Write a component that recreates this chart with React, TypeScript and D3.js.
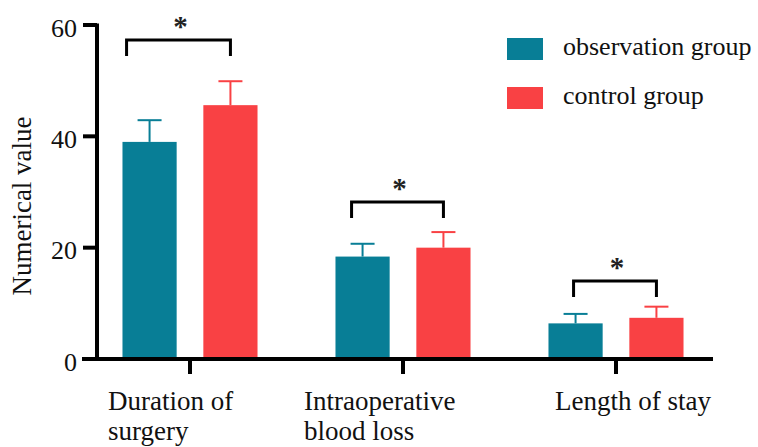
import { useEffect, useRef } from "react";
import * as d3 from "d3";

// categories and series
const categories = ["Duration of surgery", "Intraoperative blood loss", "Length of stay"];
const categoryLines = [["Duration of", "surgery"], ["Intraoperative", "blood loss"], ["Length of stay"]];
const seriesNames = ["observation group", "control group"];
const observationMean = [39.0, 18.4, 6.4];
const observationSd = [3.9, 2.3, 1.7];
const controlMean = [45.6, 20.0, 7.4];
const controlSd = [4.3, 2.8, 2.0];
const bracketLevels = [57.3, 28.2, 14.0];
const yTicks = [0, 20, 40, 60];

const colors = ["#087e96", "#f94144"];
const FONT = "'Liberation Serif', 'Times New Roman', serif";

export default function App() {
  const svgRef = useRef<SVGSVGElement | null>(null);
  const width = 758;
  const height = 447;

  useEffect(() => {
    if (!svgRef.current) return;
    const svg = d3.select(svgRef.current);
    svg.selectAll("*").remove();

    const axisX = 97;
    const axisY = 359;

    const yScale = d3.scaleLinear().domain([0, 60]).range([axisY, 25]);

    const xScale = d3
      .scaleBand()
      .domain(categories)
      .range([83.5, 722.5])
      .paddingInner(0.366)
      .paddingOuter(0.183);

    const subScale = d3
      .scaleBand()
      .domain(seriesNames)
      .range([0, xScale.bandwidth()])
      .paddingInner(0.33);

    const rows = categories.map((c, i) => ({
      cat: c,
      values: [
        { s: seriesNames[0], m: observationMean[i], sd: observationSd[i] },
        { s: seriesNames[1], m: controlMean[i], sd: controlSd[i] },
      ],
    }));

    // bars
    const groups = svg
      .append("g")
      .selectAll("g")
      .data(rows)
      .enter()
      .append("g")
      .attr("transform", (d) => `translate(${xScale(d.cat)},0)`);

    groups
      .selectAll("rect")
      .data((d) => d.values)
      .enter()
      .append("rect")
      .attr("x", (d) => subScale(d.s) as number)
      .attr("y", (d) => yScale(d.m))
      .attr("width", subScale.bandwidth())
      .attr("height", (d) => yScale(0) - yScale(d.m))
      .attr("fill", (_d, i) => colors[i]);

    // error bars (upper only)
    const err = groups
      .selectAll("g.err")
      .data((d) => d.values)
      .enter()
      .append("g")
      .attr("class", "err")
      .attr("stroke", (_d, i) => colors[i])
      .attr("stroke-width", 2);
    err
      .append("line")
      .attr("x1", (d) => (subScale(d.s) as number) + subScale.bandwidth() / 2)
      .attr("x2", (d) => (subScale(d.s) as number) + subScale.bandwidth() / 2)
      .attr("y1", (d) => yScale(d.m))
      .attr("y2", (d) => yScale(d.m + d.sd));
    err
      .append("line")
      .attr("x1", (d) => (subScale(d.s) as number) + subScale.bandwidth() / 2 - 12)
      .attr("x2", (d) => (subScale(d.s) as number) + subScale.bandwidth() / 2 + 12)
      .attr("y1", (d) => yScale(d.m + d.sd))
      .attr("y2", (d) => yScale(d.m + d.sd));

    // significance brackets
    const legDrop = 16;
    const bracketShift = [-23, -11, -2];
    rows.forEach((r, i) => {
      const x0 = (xScale(r.cat) as number) + (subScale(seriesNames[0]) as number) + subScale.bandwidth() / 2 + bracketShift[i];
      const x1 = (xScale(r.cat) as number) + (subScale(seriesNames[1]) as number) + subScale.bandwidth() / 2;
      const by = yScale(bracketLevels[i]);
      svg
        .append("path")
        .attr("d", `M${x0},${by + legDrop}V${by}H${x1}V${by + legDrop}`)
        .attr("fill", "none")
        .attr("stroke", "#000")
        .attr("stroke-width", 3);
      svg
        .append("text")
        .attr("x", (x0 + x1) / 2 + 2)
        .attr("y", by - 4)
        .attr("text-anchor", "middle")
        .attr("font-family", FONT)
        .attr("font-size", 29)
        .attr("font-weight", "bold")
        .attr("fill", "#222")
        .text("*");
    });

    // y axis
    const yAxis = svg.append("g").attr("font-family", FONT);
    yAxis
      .append("line")
      .attr("x1", axisX)
      .attr("x2", axisX)
      .attr("y1", yScale(60) - 1.5)
      .attr("y2", axisY)
      .attr("stroke", "#000")
      .attr("stroke-width", 4);
    yTicks.forEach((t) => {
      yAxis
        .append("line")
        .attr("x1", 83)
        .attr("x2", axisX)
        .attr("y1", yScale(t))
        .attr("y2", yScale(t))
        .attr("stroke", "#000")
        .attr("stroke-width", 4);
      yAxis
        .append("text")
        .attr("x", 77)
        .attr("y", yScale(t) + 3)
        .attr("dominant-baseline", "central")
        .attr("text-anchor", "end")
        .attr("font-size", 26)
        .attr("fill", "#111")
        .text(t);
    });

    // x axis
    const xAxis = svg.append("g").attr("font-family", FONT);
    xAxis
      .append("line")
      .attr("x1", 82)
      .attr("x2", 713)
      .attr("y1", axisY)
      .attr("y2", axisY)
      .attr("stroke", "#000")
      .attr("stroke-width", 4);
    const labelOffsets = [-82, -99, -61];
    rows.forEach((r, i) => {
      const cx = (xScale(r.cat) as number) + xScale.bandwidth() / 2;
      xAxis
        .append("line")
        .attr("x1", cx)
        .attr("x2", cx)
        .attr("y1", axisY)
        .attr("y2", axisY + 15)
        .attr("stroke", "#000")
        .attr("stroke-width", 4);
      categoryLines[i].forEach((line, j) => {
        xAxis
          .append("text")
          .attr("x", cx + labelOffsets[i])
          .attr("y", 410 + j * 30)
          .attr("font-size", 27)
          .attr("fill", "#111")
          .text(line);
      });
    });

    // y label
    svg
      .append("text")
      .attr("transform", `translate(31,${(yScale(0) + yScale(60)) / 2 + 14}) rotate(-90)`)
      .attr("text-anchor", "middle")
      .attr("font-family", FONT)
      .attr("font-size", 27)
      .attr("fill", "#111")
      .text("Numerical value");

    // legend
    const legend = svg.append("g").attr("font-family", FONT);
    seriesNames.forEach((s, i) => {
      legend
        .append("rect")
        .attr("x", 507)
        .attr("y", 38 + i * 49)
        .attr("width", 36)
        .attr("height", 22)
        .attr("fill", colors[i]);
      legend
        .append("text")
        .attr("x", 563)
        .attr("y", 55 + i * 49)
        .attr("font-size", 26)
        .attr("fill", "#111")
        .text(s);
    });
  }, []);

  return (
    <svg
      ref={svgRef}
      width={width}
      height={height}
      style={{ position: "absolute", left: 0, top: 0, background: "#fff" }}
    />
  );
}
